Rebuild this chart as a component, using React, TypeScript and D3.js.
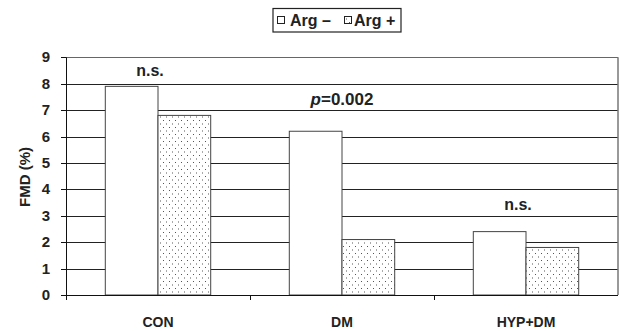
import React from "react";
import * as d3 from "d3";

const categories = ["CON", "DM", "HYP+DM"];
const series = ["Arg –", "Arg +"];
const argMinus = [7.9, 6.2, 2.4];
const argPlus = [6.8, 2.1, 1.8];
const yTicks = [0, 1, 2, 3, 4, 5, 6, 7, 8, 9];
const annotations = [
  { cat: "CON", value: 8.3, text: "n.s." },
  { cat: "HYP+DM", value: 3.2, text: "n.s." },
];

export default function App() {
  const W = 620, H = 331;
  const left = 66, right = 618, top = 57.3, bottom = 295;
  const x = d3.scaleBand<string>().domain(categories).range([left, right]).paddingInner(0).paddingOuter(0);
  const y = d3.scaleLinear().domain([0, 9]).range([bottom, top]);
  const barW = 52.7;
  const font = "'Liberation Sans', Arial, sans-serif";
  const data = categories.map((c, i) => ({ c, vals: [argMinus[i], argPlus[i]] }));
  return (
    <svg width={W} height={H} style={{ position: "absolute", left: 0, top: 0 }} fontFamily={font}>
      <defs>
        <pattern id="dots" width="6" height="7" patternUnits="userSpaceOnUse">
          <rect width="6" height="7" fill="#fff" />
          <rect x="1" y="1" width="1" height="1" fill="#555" />
          <rect x="4" y="4.5" width="1" height="1" fill="#555" />
        </pattern>
      </defs>
      <rect width={W} height={H} fill="#fff" />
      {/* gridlines */}
      {yTicks.map((t) => (
        <line key={t} x1={left} x2={right} y1={Math.round(y(t)) + 0.5} y2={Math.round(y(t)) + 0.5} stroke={t === 9 ? "#666" : "#222"} strokeWidth={1} />
      ))}
      <line x1={right} x2={right} y1={y(9)} y2={bottom} stroke="#777" strokeWidth={1.5} />
      {/* bars */}
      {data.map((d) => {
        const cx = (x(d.c) as number) + x.bandwidth() / 2;
        return d.vals.map((v, j) => (
          <rect key={d.c + j} x={cx - barW + j * barW} y={y(v)} width={barW} height={bottom - y(v)}
            fill={j === 0 ? "#fff" : "url(#dots)"} stroke="#444" strokeWidth={1} />
        ));
      })}
      {/* axes */}
      <line x1={left + 0.5} x2={left + 0.5} y1={y(9)} y2={bottom + 5} stroke="#111" strokeWidth={1} />
      <line x1={left} x2={right} y1={Math.round(bottom) + 0.5} y2={Math.round(bottom) + 0.5} stroke="#111" strokeWidth={1} />
      {yTicks.map((t) => (
        <g key={"t" + t}>
          <line x1={left - 5} x2={left} y1={Math.round(y(t)) + 0.5} y2={Math.round(y(t)) + 0.5} stroke="#111" />
          <text x={50} y={y(t) + 5} textAnchor="end" fontSize={15} fontWeight="bold" fill="#222">{t}</text>
        </g>
      ))}
      {categories.slice(1).map((c) => (
        <line key={"ct" + c} x1={Math.round(x(c) as number) + 0.5} x2={Math.round(x(c) as number) + 0.5} y1={bottom} y2={bottom + 5} stroke="#111" />
      ))}
      {categories.map((c) => (
        <text key={"cl" + c} x={(x(c) as number) + x.bandwidth() / 2} y={327} textAnchor="middle" fontSize={14} fontWeight="bold" fill="#222">{c}</text>
      ))}
      <text transform={`translate(30,177) rotate(-90)`} textAnchor="middle" fontSize={15} fontWeight="bold" fill="#222">FMD (%)</text>
      {/* annotations */}
      {annotations.map((a) => (
        <text key={a.cat} x={(x(a.cat) as number) + x.bandwidth() / 2 - 8} y={y(a.value)} textAnchor="middle" fontSize={16} fontWeight="bold" fill="#222">{a.text}</text>
      ))}
      <text x={342} y={105} textAnchor="middle" fontSize={17} fontWeight="bold" fill="#222">
        <tspan fontStyle="italic">p</tspan>=0.002
      </text>
      {/* legend */}
      <rect x={273} y={8.5} width={128} height={23.5} fill="#fff" stroke="#222" strokeWidth={1.2} />
      <rect x={277.5} y={16.5} width={7} height={7} fill="#fff" stroke="#222" strokeWidth={1} />
      <text x={290} y={26} fontSize={16} fontWeight="bold" fill="#222">{series[0]}</text>
      <rect x={344.5} y={16.5} width={7} height={7} fill="url(#dots)" stroke="#222" strokeWidth={1} />
      <text x={354} y={26} fontSize={16} fontWeight="bold" fill="#222">{series[1]}</text>
    </svg>
  );
}
